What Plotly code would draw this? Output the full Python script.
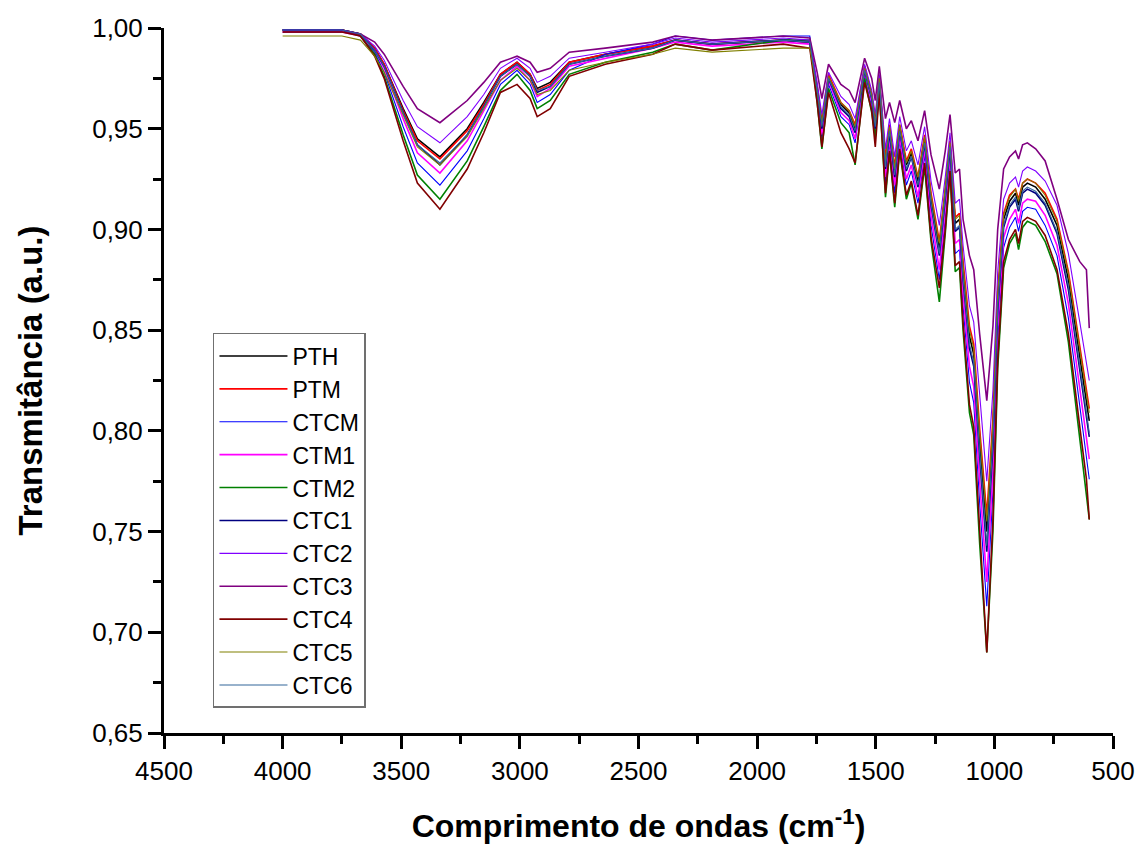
import plotly.graph_objects as go

wavenumber = [4000, 3750, 3672, 3612, 3572, 3492, 3432, 3337, 3222, 3152,
              3082, 3012, 2957, 2927, 2872, 2792, 2640, 2440, 2345, 2190,
              1890, 1778, 1747, 1727, 1699, 1647, 1612, 1587, 1547, 1517,
              1502, 1485, 1459, 1442, 1420, 1399, 1371, 1350, 1322, 1294,
              1267, 1232, 1207, 1187, 1165, 1147, 1132, 1105, 1087, 1062,
              1032, 1006, 986, 961, 936, 911, 898, 881, 861, 826,
              786, 736, 688, 640, 612, 600]

PTH = [0.999, 0.999, 0.997, 0.990, 0.982, 0.960, 0.945, 0.936, 0.950, 0.963,
       0.977, 0.983, 0.977, 0.970, 0.973, 0.983, 0.987, 0.991, 0.994, 0.992,
       0.994, 0.993, 0.970, 0.952, 0.976, 0.962, 0.958, 0.950, 0.980, 0.966,
       0.952, 0.974, 0.933, 0.950, 0.929, 0.951, 0.932, 0.938, 0.924, 0.945,
       0.915, 0.891, 0.918, 0.942, 0.903, 0.905, 0.880, 0.847, 0.838, 0.795,
       0.750, 0.800, 0.865, 0.905, 0.914, 0.918, 0.912, 0.921, 0.923, 0.921,
       0.915, 0.902, 0.875, 0.838, 0.815, 0.805]

PTM = [0.999, 0.999, 0.997, 0.990, 0.982, 0.959, 0.944, 0.935, 0.949, 0.962,
       0.977, 0.983, 0.977, 0.969, 0.972, 0.983, 0.987, 0.991, 0.994, 0.992,
       0.994, 0.993, 0.971, 0.953, 0.977, 0.963, 0.959, 0.952, 0.981, 0.967,
       0.953, 0.975, 0.935, 0.952, 0.931, 0.952, 0.934, 0.940, 0.926, 0.947,
       0.918, 0.894, 0.920, 0.944, 0.906, 0.908, 0.884, 0.852, 0.843, 0.801,
       0.758, 0.806, 0.869, 0.908, 0.917, 0.920, 0.915, 0.923, 0.925, 0.923,
       0.918, 0.905, 0.879, 0.842, 0.822, 0.811]

CTCM = [0.999, 0.999, 0.996, 0.988, 0.978, 0.951, 0.933, 0.922, 0.939, 0.955,
        0.972, 0.979, 0.972, 0.963, 0.967, 0.979, 0.987, 0.992, 0.996, 0.994,
        0.996, 0.996, 0.966, 0.945, 0.972, 0.956, 0.952, 0.943, 0.977, 0.961,
        0.945, 0.970, 0.923, 0.943, 0.918, 0.944, 0.922, 0.929, 0.913, 0.937,
        0.902, 0.875, 0.906, 0.933, 0.888, 0.890, 0.862, 0.824, 0.814, 0.764,
        0.713, 0.770, 0.845, 0.891, 0.901, 0.906, 0.899, 0.909, 0.911, 0.910,
        0.902, 0.887, 0.856, 0.813, 0.788, 0.776]

CTM1 = [0.998, 0.998, 0.996, 0.989, 0.980, 0.955, 0.938, 0.928, 0.944, 0.959,
        0.974, 0.981, 0.974, 0.966, 0.970, 0.981, 0.985, 0.990, 0.993, 0.991,
        0.993, 0.992, 0.967, 0.947, 0.974, 0.958, 0.954, 0.945, 0.978, 0.963,
        0.947, 0.971, 0.926, 0.945, 0.922, 0.946, 0.925, 0.932, 0.916, 0.940,
        0.907, 0.880, 0.910, 0.936, 0.893, 0.895, 0.868, 0.832, 0.822, 0.775,
        0.725, 0.780, 0.852, 0.896, 0.905, 0.910, 0.903, 0.913, 0.915, 0.914,
        0.907, 0.892, 0.863, 0.821, 0.797, 0.786]

CTM2 = [0.999, 0.999, 0.996, 0.987, 0.976, 0.947, 0.927, 0.915, 0.934, 0.951,
        0.969, 0.977, 0.969, 0.960, 0.964, 0.977, 0.983, 0.988, 0.992, 0.989,
        0.994, 0.994, 0.963, 0.940, 0.970, 0.953, 0.948, 0.932, 0.975, 0.958,
        0.946, 0.968, 0.916, 0.938, 0.911, 0.939, 0.915, 0.923, 0.905, 0.931,
        0.894, 0.864, 0.898, 0.928, 0.879, 0.881, 0.850, 0.809, 0.798, 0.744,
        0.690, 0.750, 0.831, 0.881, 0.893, 0.898, 0.890, 0.901, 0.904, 0.902,
        0.894, 0.878, 0.844, 0.796, 0.770, 0.756]

CTC1 = [0.999, 0.999, 0.997, 0.989, 0.981, 0.958, 0.942, 0.932, 0.947, 0.961,
        0.976, 0.982, 0.976, 0.968, 0.971, 0.982, 0.986, 0.990, 0.994, 0.992,
        0.994, 0.993, 0.969, 0.950, 0.975, 0.960, 0.956, 0.948, 0.979, 0.965,
        0.950, 0.973, 0.930, 0.948, 0.926, 0.949, 0.929, 0.936, 0.921, 0.943,
        0.912, 0.887, 0.915, 0.940, 0.899, 0.901, 0.875, 0.841, 0.832, 0.787,
        0.740, 0.792, 0.860, 0.901, 0.911, 0.915, 0.909, 0.918, 0.920, 0.918,
        0.912, 0.898, 0.870, 0.831, 0.809, 0.797]

CTC2 = [0.999, 0.999, 0.997, 0.991, 0.984, 0.964, 0.951, 0.943, 0.956, 0.967,
        0.980, 0.985, 0.980, 0.973, 0.976, 0.985, 0.988, 0.992, 0.995, 0.993,
        0.995, 0.994, 0.973, 0.957, 0.978, 0.966, 0.962, 0.955, 0.982, 0.969,
        0.957, 0.977, 0.940, 0.955, 0.936, 0.956, 0.939, 0.944, 0.932, 0.951,
        0.924, 0.902, 0.926, 0.948, 0.913, 0.915, 0.892, 0.862, 0.854, 0.816,
        0.775, 0.820, 0.879, 0.915, 0.923, 0.926, 0.921, 0.929, 0.931, 0.929,
        0.924, 0.912, 0.888, 0.854, 0.834, 0.825]

CTC3 = [0.998, 0.998, 0.997, 0.993, 0.987, 0.971, 0.960, 0.953, 0.964, 0.973,
        0.983, 0.986, 0.983, 0.978, 0.980, 0.988, 0.990, 0.993, 0.996, 0.994,
        0.996, 0.995, 0.978, 0.965, 0.982, 0.972, 0.969, 0.963, 0.985, 0.975,
        0.964, 0.981, 0.955, 0.963, 0.953, 0.964, 0.950, 0.954, 0.944, 0.959,
        0.937, 0.920, 0.939, 0.957, 0.928, 0.930, 0.905, 0.887, 0.880, 0.848,
        0.815, 0.852, 0.900, 0.930, 0.936, 0.939, 0.935, 0.942, 0.943, 0.940,
        0.934, 0.915, 0.895, 0.884, 0.880, 0.851]

CTC4 = [0.998, 0.998, 0.996, 0.986, 0.975, 0.944, 0.923, 0.910, 0.930, 0.948,
        0.968, 0.972, 0.965, 0.956, 0.960, 0.976, 0.982, 0.987, 0.992, 0.989,
        0.992, 0.990, 0.963, 0.941, 0.968, 0.948, 0.940, 0.933, 0.973, 0.959,
        0.941, 0.968, 0.918, 0.939, 0.913, 0.940, 0.917, 0.924, 0.907, 0.933,
        0.896, 0.871, 0.900, 0.929, 0.882, 0.884, 0.854, 0.813, 0.802, 0.750,
        0.690, 0.756, 0.835, 0.884, 0.895, 0.900, 0.893, 0.904, 0.906, 0.904,
        0.897, 0.880, 0.848, 0.802, 0.776, 0.756]

CTC5 = [0.996, 0.996, 0.994, 0.986, 0.978, 0.957, 0.941, 0.932, 0.946, 0.960,
        0.974, 0.980, 0.974, 0.967, 0.969, 0.979, 0.983, 0.987, 0.990, 0.988,
        0.990, 0.990, 0.969, 0.953, 0.976, 0.963, 0.959, 0.951, 0.980, 0.967,
        0.953, 0.975, 0.934, 0.951, 0.930, 0.952, 0.933, 0.939, 0.926, 0.946,
        0.917, 0.893, 0.920, 0.943, 0.905, 0.907, 0.882, 0.850, 0.841, 0.799,
        0.755, 0.804, 0.868, 0.907, 0.916, 0.920, 0.914, 0.923, 0.925, 0.923,
        0.917, 0.904, 0.878, 0.841, 0.820, 0.809]

CTC6 = [0.999, 0.999, 0.997, 0.989, 0.981, 0.958, 0.942, 0.933, 0.947, 0.961,
        0.976, 0.982, 0.976, 0.969, 0.971, 0.982, 0.986, 0.990, 0.994, 0.992,
        0.994, 0.993, 0.969, 0.951, 0.975, 0.961, 0.957, 0.949, 0.979, 0.965,
        0.951, 0.973, 0.931, 0.949, 0.927, 0.949, 0.930, 0.936, 0.922, 0.943,
        0.913, 0.888, 0.916, 0.941, 0.900, 0.902, 0.876, 0.843, 0.834, 0.789,
        0.743, 0.795, 0.861, 0.902, 0.912, 0.916, 0.910, 0.919, 0.921, 0.919,
        0.913, 0.899, 0.872, 0.833, 0.811, 0.799]

series_names = ["PTH", "PTM", "CTCM", "CTM1", "CTM2", "CTC1",
                "CTC2", "CTC3", "CTC4", "CTC5", "CTC6"]
series_values = [PTH, PTM, CTCM, CTM1, CTM2, CTC1, CTC2, CTC3, CTC4, CTC5, CTC6]
series_colors = ["#000000", "#FF0000", "#0000FF", "#FF00FF", "#008000", "#000080",
                 "#8000FF", "#800080", "#800000", "#808000", "#336699"]
series_widths = [1.6, 1.6, 1.1, 1.6, 1.6, 1.6, 1.1, 1.6, 1.6, 1.1, 1.1]

x_ticks = [4500, 4000, 3500, 3000, 2500, 2000, 1500, 1000, 500]
y_ticks = [0.65, 0.70, 0.75, 0.80, 0.85, 0.90, 0.95, 1.00]

fig = go.Figure()
for name, vals, col, w in zip(series_names, series_values, series_colors, series_widths):
    fig.add_trace(go.Scatter(x=wavenumber, y=vals, mode="lines", name=name,
                             line=dict(color=col, width=w)))

font_family = "Liberation Sans, Arial, sans-serif"

fig.update_layout(
    width=1139, height=845,
    margin=dict(l=164, r=26, t=28, b=112),
    paper_bgcolor="white", plot_bgcolor="white",
    separators=",.",
    font=dict(family=font_family, color="black", size=23),
    showlegend=True,
    legend=dict(x=0.0516, y=0.5674, xanchor="left", yanchor="top",
                bgcolor="white", bordercolor="#707070", borderwidth=1.5,
                font=dict(size=23, family=font_family),
                itemwidth=68, tracegroupgap=0),
    xaxis=dict(range=[4500, 500], tickmode="array", tickvals=x_ticks,
               ticktext=[str(v) for v in x_ticks], automargin=False,
               showline=True, linecolor="black", linewidth=3,
               ticks="outside", ticklen=13, tickwidth=3, tickcolor="black",
               minor=dict(dtick=250, ticks="outside", ticklen=8, tickwidth=3, tickcolor="black"),
               showgrid=False, zeroline=False, mirror=False,
               tickfont=dict(size=26, family=font_family),
               title=dict(text="<b>Comprimento de ondas (cm<sup>-1</sup>)</b>",
                          font=dict(size=32, family=font_family), standoff=30)),
    yaxis=dict(range=[0.65, 1.00], tickmode="array", tickvals=y_ticks,
               tickformat=".2f", automargin=False,
               showline=True, linecolor="black", linewidth=3,
               ticks="outside", ticklen=13, tickwidth=3, tickcolor="black",
               minor=dict(dtick=0.025, ticks="outside", ticklen=8, tickwidth=3, tickcolor="black"),
               showgrid=False, zeroline=False, mirror=False,
               tickfont=dict(size=26, family=font_family),
               title=dict(text="<b>Transmitância (a.u.)</b>",
                          font=dict(size=33, family=font_family), standoff=40)),
)

fig.write_html("out.html")
